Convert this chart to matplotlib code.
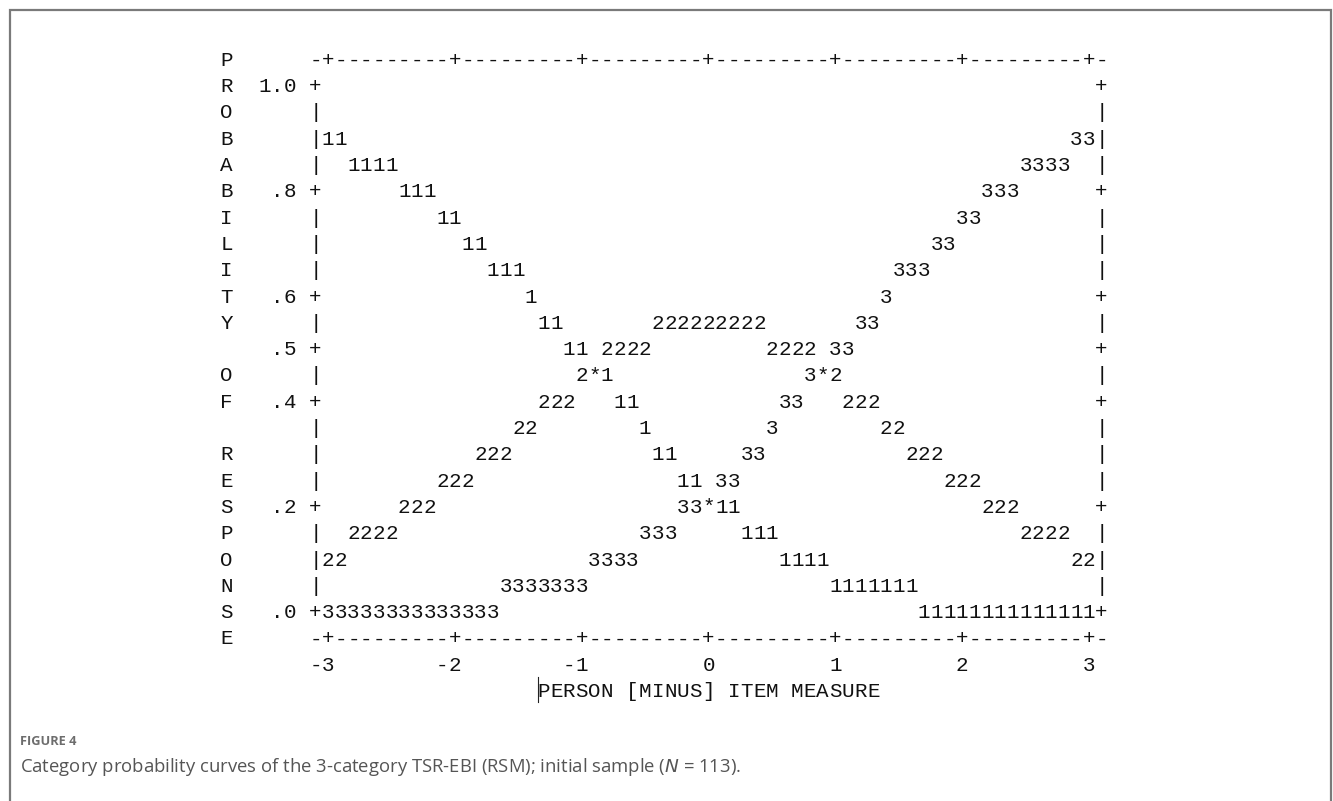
import matplotlib
matplotlib.use("Agg")
import matplotlib.pyplot as plt

# left-hand axis title, one letter per text row (rows 0..22)
side_title = "PROBABILITY OF RESPONSE"
# probability tick labels
prob_ticks = [1.0, 0.8, 0.6, 0.5, 0.4, 0.2, 0.0]
prob_labels = ["1.0", ".8", ".6", ".5", ".4", ".2", ".0"]
# measure ticks
measure_ticks = [-3, -2, -1, 0, 1, 2, 3]
x_title = "PERSON [MINUS] ITEM MEASURE"

# character curves: probability level -> list of (start measure, characters)
curves = {
    0.90: [(-3.0, "11"), (2.9, "33")],
    0.85: [(-2.8, "1111"), (2.5, "3333")],
    0.80: [(-2.4, "111"), (2.2, "333")],
    0.75: [(-2.1, "11"), (2.0, "33")],
    0.70: [(-1.9, "11"), (1.8, "33")],
    0.65: [(-1.7, "111"), (1.5, "333")],
    0.60: [(-1.4, "1"), (1.4, "3")],
    0.55: [(-1.3, "11"), (-0.4, "222222222"), (1.2, "33")],
    0.50: [(-1.1, "11"), (-0.8, "2222"), (0.5, "2222"), (1.0, "33")],
    0.45: [(-1.0, "2*1"), (0.8, "3*2")],
    0.40: [(-1.3, "222"), (-0.7, "11"), (0.6, "33"), (1.1, "222")],
    0.35: [(-1.5, "22"), (-0.5, "1"), (0.5, "3"), (1.4, "22")],
    0.30: [(-1.8, "222"), (-0.4, "11"), (0.3, "33"), (1.6, "222")],
    0.25: [(-2.1, "222"), (-0.2, "11"), (0.1, "33"), (1.9, "222")],
    0.20: [(-2.4, "222"), (-0.2, "33*11"), (2.2, "222")],
    0.15: [(-2.8, "2222"), (-0.5, "333"), (0.3, "111"), (2.5, "2222")],
    0.10: [(-3.0, "22"), (-0.9, "3333"), (0.6, "1111"), (2.9, "22")],
    0.05: [(-1.6, "3333333"), (1.0, "1111111")],
    0.00: [(-3.0, "33333333333333"), (1.7, "11111111111111")],
}

caption_head = "FIGURE 4"
caption_text = "Category probability curves of the 3-category TSR-EBI (RSM); initial sample ($\\mathit{N}$ = 113)."

# text grid geometry (pixels)
CW = 12.68      # character width
X0 = 226.7      # centre of column 0
RH = 26.3       # row height
Y0 = 59.0       # centre of row 0
FS = 15.0       # mono font size (pt)
CAP = 13.6      # cap height in px
MONO = "Liberation Mono"

def col_of(m):
    return int(round(38 + m * 10))

def row_of(p):
    return int(round(1 + (1 - p) * 20))

ncols = 70
nrows = 25
grid = [[" "] * ncols for _ in range(nrows)]

def put(r, c, s):
    for i, ch in enumerate(s):
        grid[r][c + i] = ch

for r, ch in enumerate(side_title):
    grid[r][0] = ch

# vertical axes
for r in range(1, 22):
    grid[r][7] = "|"
    grid[r][69] = "|"
for p, lab in zip(prob_ticks, prob_labels):
    r = row_of(p)
    put(r, 6 - len(lab), lab)
    grid[r][7] = "+"
    grid[r][69] = "+"

# horizontal axes
for r in (0, 22):
    for c in range(7, 70):
        grid[r][c] = "-"
    for m in measure_ticks:
        grid[r][col_of(m)] = "+"

# measure labels
for m in measure_ticks:
    lab = str(m)
    put(23, col_of(m) - len(lab) + 1, lab)

# curves
for p, runs in curves.items():
    for m, s in runs:
        put(row_of(p), col_of(m), s)

fig = plt.figure(figsize=(13.33, 8.01), dpi=100)
ax = fig.add_axes([0, 0, 1, 1])
ax.set_xlim(0, 1333)
ax.set_ylim(801, 0)
ax.axis("off")

for r in range(24):
    yb = Y0 + r * RH + CAP / 2
    for c in range(ncols):
        ch = grid[r][c]
        if ch != " ":
            ax.text(X0 + c * CW, yb, ch, ha="center", va="baseline",
                    family=MONO, fontsize=FS, color="#111111")

# axis title
ty = 690 + CAP / 2
start = 38 - len(x_title) // 2
for i, ch in enumerate(x_title):
    if ch != " ":
        ax.text(X0 + (start + i) * CW, ty, ch, ha="center", va="baseline",
                family=MONO, fontsize=FS, color="#111111")
ax.plot([538, 538], [677, 702], color="#222222", lw=0.8)

# outer frame (open at the bottom)
ax.plot([9.5, 9.5, 1331, 1331], [801, 9.5, 9.5, 801], color="#7a7a7a", lw=1.6,
        solid_joinstyle="miter")

# caption
ax.text(20, 745, caption_head, ha="left", va="baseline", family="Open Sans",
        fontsize=9.2, fontweight="bold", color="#6d6d6d")
ax.text(20, 772, caption_text, ha="left", va="baseline", family="Open Sans",
        fontsize=13.3, color="#555555")

fig.savefig("out.png", dpi=100)
